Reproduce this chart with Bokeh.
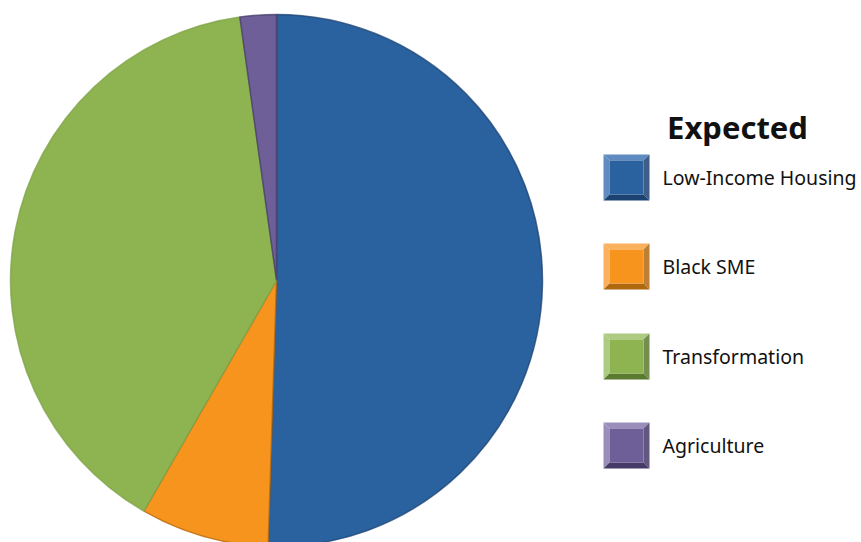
import math
from bokeh.plotting import figure
from bokeh.models import Range1d, ColumnDataSource
from bokeh.core.properties import value
from bokeh.embed import file_html
from bokeh.resources import INLINE

# ---- data ----
categories = ["Low-Income Housing", "Black SME", "Transformation", "Agriculture"]
shares = [50.5, 7.8, 39.5, 2.2]
title = "Expected"

# ---- styles ----
base_colors = ["#2A62A0", "#F7941D", "#8DB451", "#6E5F98"]
light_colors = ["#5F8BC0", "#FAB05C", "#AECB82", "#9A8FBA"]
dark_colors = ["#1C4272", "#B0680F", "#5A7A30", "#463B68"]
rim_colors = ["#1C4272", "#B0680F", "#7FA348", "#463B68"]

W, H = 861, 542
p = figure(width=W, height=H, output_backend="svg", toolbar_location=None,
           x_range=Range1d(0, W), y_range=Range1d(0, H), min_border=0)
p.axis.visible = False
p.grid.visible = False
p.outline_line_color = None
p.background_fill_color = "white"
p.border_fill_color = "white"

# pie geometry (layout)
cx, cy, r = 276, H - 280, 266
total = sum(shares)
starts, ends = [], []
acc = 0.0
for s in shares:
    a0 = math.pi / 2 - 2 * math.pi * acc / total
    acc += s
    a1 = math.pi / 2 - 2 * math.pi * acc / total
    starts.append(a0)
    ends.append(a1)

src = ColumnDataSource(dict(x=[cx] * len(shares), y=[cy] * len(shares),
                            start=starts, end=ends, color=base_colors,
                            line=rim_colors, cat=categories))
p.wedge(x="x", y="y", radius=r, start_angle="start", end_angle="end",
        direction="clock", fill_color="color", line_color="line",
        line_width=1.5, line_alpha=0.75, source=src)

# ---- legend ----
p.text(x=[737], y=[H - 126], text=[title], text_font=value("Noto Sans"),
       text_font_style="bold", text_font_size="31px", text_align="center",
       text_baseline="middle", text_color="#111111")

legend_y = [177, 266, 356, 445]
sx, size, bev = 626, 46, 6
for i, cat in enumerate(categories):
    yc = H - legend_y[i]
    h = size / 2
    x0, x1, y0, y1 = sx - h, sx + h, yc - h, yc + h
    ix0, ix1, iy0, iy1 = x0 + bev, x1 - bev, y0 + bev, y1 - bev
    p.patch([x0, x1, ix1, ix0], [y1, y1, iy1, iy1], fill_color=light_colors[i], line_color=None)
    p.patch([x0, ix0, ix0, x0], [y1, iy1, iy0, y0], fill_color=light_colors[i], line_color=None)
    p.patch([x0, ix0, ix1, x1], [y0, iy0, iy0, y0], fill_color=dark_colors[i], line_color=None)
    p.patch([x1, ix1, ix1, x1], [y1, iy1, iy0, y0], fill_color=dark_colors[i], line_color=None, fill_alpha=0.85)
    p.quad(left=[ix0], right=[ix1], bottom=[iy0], top=[iy1], fill_color=base_colors[i], line_color=None)
    p.text(x=[662], y=[yc], text=[cat], text_font=value("Noto Sans"),
           text_font_size="19.5px", text_baseline="middle", text_color="#111111")

open("out.html", "w").write(file_html(p, INLINE))
